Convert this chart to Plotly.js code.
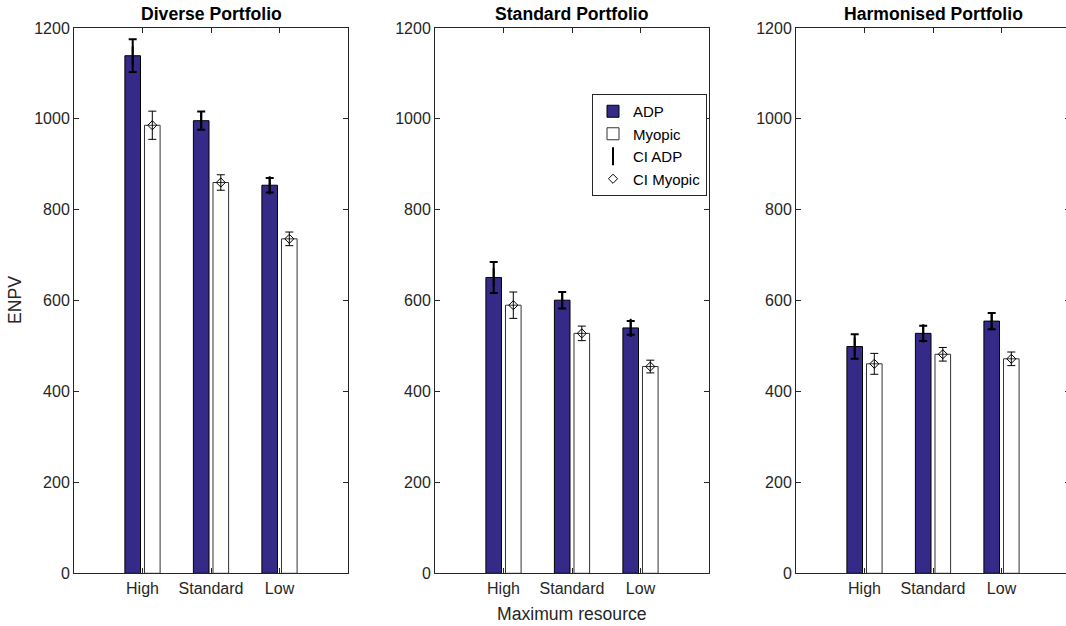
<!DOCTYPE html>
<html><head><meta charset="utf-8">
<script src="https://cdn.plot.ly/plotly-3.0.1.min.js"></script>
<style>html,body{margin:0;padding:0;overflow:hidden;background:#fff}</style>
</head><body><div id="chart" style="width:1072px;height:626px"></div>
<script>
// ---- data ----
const categories = ['High', 'Standard', 'Low'];
const panelTitles = ['Diverse Portfolio', 'Standard Portfolio', 'Harmonised Portfolio'];
const seriesNames = ['ADP', 'Myopic', 'CI ADP', 'CI Myopic'];
const adpDiverse = [1139, 996, 854];
const adpDiverseCI = [36, 20, 16];
const myopicDiverse = [986, 860, 736];
const myopicDiverseCI = [31, 17, 15];
const adpStandard = [651, 601, 540];
const adpStandardCI = [34, 18, 15];
const myopicStandard = [590, 528, 455];
const myopicStandardCI = [29, 16, 14];
const adpHarmonised = [499, 528, 555];
const adpHarmonisedCI = [27, 17, 18];
const myopicHarmonised = [461, 482, 472];
const myopicHarmonisedCI = [23, 15, 15];
const yTicks = [0, 200, 400, 600, 800, 1000, 1200];

// ---- styling / layout constants ----
const W = 1072, H = 626;
const BAR_W = 0.228, OFF_ADP = -0.257, OFF_MYO = 0.029;
const ADP_COLOR = '#352A87';
const AX_COLOR = '#262626';
const FONT = 'Liberation Sans, Arial, Helvetica, sans-serif';
const panelsPx = [[74, 348], [435, 709], [796, 1070]];
const plotTopPx = 28, plotBottomPx = 573.3;

const panels = [
  {adp: adpDiverse, adpCI: adpDiverseCI, myo: myopicDiverse, myoCI: myopicDiverseCI},
  {adp: adpStandard, adpCI: adpStandardCI, myo: myopicStandard, myoCI: myopicStandardCI},
  {adp: adpHarmonised, adpCI: adpHarmonisedCI, myo: myopicHarmonised, myoCI: myopicHarmonisedCI}
];
const idx = categories.map((c, i) => i + 1);

const data = [];
panels.forEach((p, k) => {
  const xa = k === 0 ? 'x' : 'x' + (k + 1);
  const ya = k === 0 ? 'y' : 'y' + (k + 1);
  const show = k === 1;
  data.push({
    type: 'bar', name: seriesNames[0], x: idx, y: p.adp, width: BAR_W, offset: OFF_ADP,
    marker: {color: ADP_COLOR, line: {color: '#000', width: 1}},
    xaxis: xa, yaxis: ya, showlegend: show, legendrank: 1
  });
  data.push({
    type: 'bar', name: seriesNames[1], x: idx, y: p.myo, width: BAR_W, offset: OFF_MYO,
    marker: {color: '#ffffff', line: {color: '#333', width: 1}},
    xaxis: xa, yaxis: ya, showlegend: show, legendrank: 2
  });
  data.push({
    type: 'scatter', mode: 'markers', name: seriesNames[2],
    x: idx.map(v => v + OFF_ADP + BAR_W / 2), y: p.adp,
    marker: {symbol: 'line-ns-open', size: 13, color: '#000', line: {color: '#000', width: 2}},
    error_y: {type: 'data', array: p.adpCI, visible: true, color: '#000', thickness: 2, width: 4},
    xaxis: xa, yaxis: ya, showlegend: show, legendrank: 3
  });
  data.push({
    type: 'scatter', mode: 'markers', name: seriesNames[3],
    x: idx.map(v => v + OFF_MYO + BAR_W / 2), y: p.myo,
    marker: {symbol: 'diamond-open', size: 7, color: '#000', line: {color: '#000', width: 1}},
    error_y: {type: 'data', array: p.myoCI, visible: true, color: '#000', thickness: 1, width: 4},
    xaxis: xa, yaxis: ya, showlegend: show, legendrank: 4
  });
});

const layout = {
  width: W, height: H,
  margin: {l: 0, r: 0, t: 0, b: 0},
  paper_bgcolor: '#fff', plot_bgcolor: '#fff',
  font: {family: FONT, size: 16, color: AX_COLOR},
  barmode: 'overlay',
  legend: {
    x: 592 / W, y: 1 - 94 / H, xanchor: 'left', yanchor: 'top',
    bordercolor: AX_COLOR, borderwidth: 1, bgcolor: '#fff',
    font: {family: FONT, size: 15, color: '#000'},
    traceorder: 'normal', tracegroupgap: 0
  },
  annotations: [],
  showlegend: true
};

panelsPx.forEach((px, k) => {
  const suf = k === 0 ? '' : String(k + 1);
  layout['xaxis' + suf] = {
    domain: [px[0] / W, px[1] / W], range: [0, 4], anchor: 'y' + suf,
    tickvals: idx, ticktext: categories,
    ticks: 'inside', ticklen: 5, tickcolor: AX_COLOR, mirror: 'ticks',
    showline: true, linecolor: AX_COLOR, linewidth: 1,
    showgrid: false, zeroline: false, fixedrange: true,
    tickfont: {family: FONT, size: 16, color: AX_COLOR}
  };
  layout['yaxis' + suf] = {
    domain: [1 - plotBottomPx / H, 1 - plotTopPx / H], range: [0, 1200], anchor: 'x' + suf,
    tickvals: yTicks, ticks: 'inside', ticklen: 5, tickcolor: AX_COLOR, mirror: 'ticks',
    showline: true, linecolor: AX_COLOR, linewidth: 1,
    showgrid: false, zeroline: false, fixedrange: true,
    tickfont: {family: FONT, size: 16, color: AX_COLOR}
  };
  layout.annotations.push({
    text: '<b>' + panelTitles[k] + '</b>', xref: 'paper', yref: 'paper',
    x: (px[0] + px[1]) / 2 / W, y: 1 - 14 / H, xanchor: 'center', yanchor: 'middle',
    showarrow: false, font: {family: FONT, size: 17.6, color: '#000'}
  });
});

layout.annotations.push({
  text: 'ENPV', xref: 'paper', yref: 'paper', x: 15 / W, y: 1 - 300 / H,
  xanchor: 'center', yanchor: 'middle', textangle: -90, showarrow: false,
  font: {family: FONT, size: 17.6, color: AX_COLOR}
});
layout.annotations.push({
  text: 'Maximum resource', xref: 'paper', yref: 'paper',
  x: (panelsPx[1][0] + panelsPx[1][1]) / 2 / W, y: 1 - 614 / H,
  xanchor: 'center', yanchor: 'middle', showarrow: false,
  font: {family: FONT, size: 17.6, color: AX_COLOR}
});

Plotly.newPlot('chart', data, layout, {staticPlot: true, displayModeBar: false});
</script>
</body></html>
